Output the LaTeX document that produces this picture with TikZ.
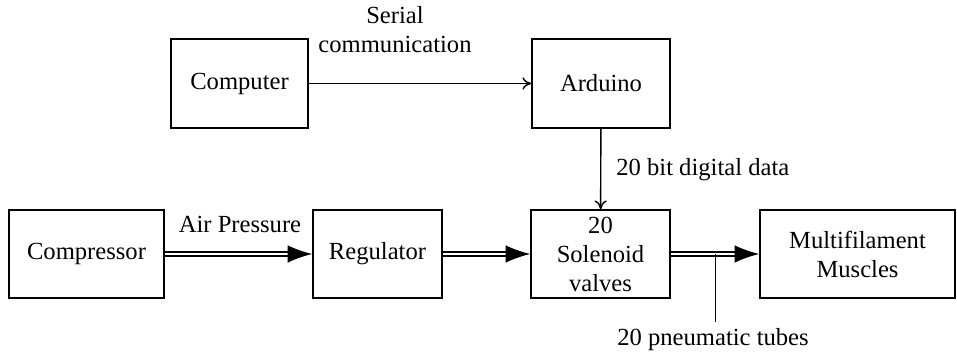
\documentclass[tikz,border=0pt]{standalone}
\usepackage{fontspec}
\setmainfont{Liberation Serif}
\usepackage{tikz}
\usetikzlibrary{arrows.meta,positioning}
\tikzstyle{every node}=[font=\fontsize{14pt}{16.5pt}\selectfont, inner sep=0pt]
\tikzset{
    block/.style={
                draw=black,
                line width=0.9pt,
                align=center,
                minimum height=1.76cm
            },
        signal/.style={
                draw=black,
                line width=0.8pt,
                -{To[length=5pt,width=7pt]}
            },
        pipe/.style={
                draw=black,
                double=white,
                double distance=1.5pt,
                line width=0.75pt,
                -{Latex[length=14pt,width=10pt]}
            },
        tag/.style={
                align=left
            }
}

\begin{document}
\begin{tikzpicture}
  \useasboundingbox (0,0) rectangle (19.14,7.14);
  % Control side
  \node[block,minimum width=2.74cm,minimum height=1.78cm] (computer) at (4.79,5.47) {Computer};
  \node[block,minimum width=2.76cm,minimum height=1.78cm] (arduino) at (12.02,5.47) {Arduino};
  % Air side
  \node[block,minimum width=3.10cm] (compressor) at (1.73,2.06) {Compressor};
  \node[block,minimum width=2.58cm] (regulator) at (7.55,2.06) {Regulator};
  \node[block,minimum width=2.78cm] (valves) at (12.01,2.06) {20\\Solenoid\\valves};
  \node[block,minimum width=3.90cm] (muscles) at (17.15,2.06) {Multifilament\\Muscles};
  % Labels
  \node[tag,align=center] (serial) at (7.90,6.54) {Serial\\communication};
  \node (air) at (4.80,2.66) {Air Pressure};
  \node[anchor=west] (bits) at (12.32,3.74) {20 bit digital data};
  \node[anchor=west] (tubes) at (12.34,0.34) {20 pneumatic tubes};
  \coordinate (tubetop) at (14.30,2.06);
  \coordinate (tubeend) at (14.30,0.70);
  % Connectors
  \draw[signal] (computer) -- (arduino);
  \draw[signal] (arduino) -- (valves);
  \draw[pipe] (compressor) -- (regulator);
  \draw[pipe] (regulator) -- (valves);
  \draw[pipe] (valves) -- (muscles);
  \draw[line width=0.5pt] (tubetop) -- (tubeend);
\end{tikzpicture}
\end{document}
